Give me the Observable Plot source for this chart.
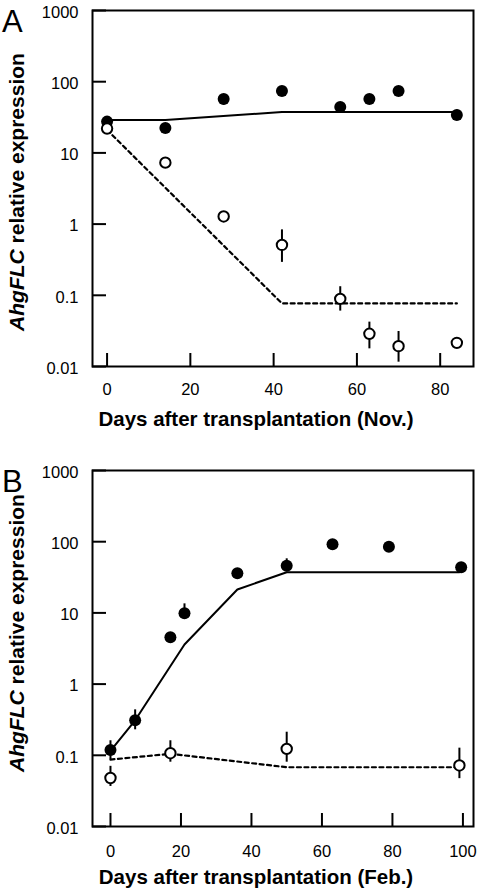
<!DOCTYPE html>
<html><head><meta charset="utf-8">
<script src="https://cdn.jsdelivr.net/npm/d3@7"></script>
<script src="https://cdn.jsdelivr.net/npm/@observablehq/plot@0.6"></script>
<style>
body{margin:0;background:#fff}
#chart{position:relative;width:477px;height:888px}
#chart svg{display:block}
</style>
</head><body><div id="chart"></div>
<script>
// ---------- Panel A (Nov.) ----------
const aFilledDays = [0, 14, 28, 42, 56, 63, 70, 84];
const aFilledVals = [27.5, 22.3, 57, 74, 44, 57, 74, 34];
const aFilledErrDays = [28, 84];
const aFilledErrLo = [47, 34];
const aFilledErrHi = [57, 40];
const aOpenDays = [0, 14, 28, 42, 56, 63, 70, 84];
const aOpenVals = [22, 7.3, 1.28, 0.51, 0.089, 0.0288, 0.0193, 0.0215];
const aOpenErrDays = [42, 56, 63, 70];
const aOpenErrLo = [0.29, 0.060, 0.0177, 0.0115];
const aOpenErrHi = [0.83, 0.132, 0.042, 0.031];
const aFitFilledDays = [0, 14, 42, 84];
const aFitFilledVals = [29, 29, 37.5, 37.5];
const aFitOpenDays = [0, 42, 84];
const aFitOpenVals = [21, 0.077, 0.077];
const aXTicks = [0, 20, 40, 60, 80];

// ---------- Panel B (Feb.) ----------
const bFilledDays = [0, 7, 17, 21, 36, 50, 63, 79, 99.5];
const bFilledVals = [0.119, 0.31, 4.56, 9.9, 36.1, 45.8, 92, 84.8, 43.8];
const bFilledErrDays = [0, 7, 21, 50, 99.5];
const bFilledErrLo = [0.087, 0.228, 9.9, 45.8, 43.8];
const bFilledErrHi = [0.16, 0.435, 13.4, 57.5, 49];
const bOpenDays = [0, 17, 50, 99];
const bOpenVals = [0.048, 0.107, 0.123, 0.072];
const bOpenErrDays = [0, 17, 50, 99];
const bOpenErrLo = [0.0365, 0.08, 0.08, 0.047];
const bOpenErrHi = [0.070, 0.16, 0.211, 0.126];
const bFitFilledDays = [0, 7, 21, 36, 50, 99];
const bFitFilledVals = [0.115, 0.31, 3.6, 21.3, 37.3, 37.3];
const bFitOpenDays = [0, 17, 50, 99];
const bFitOpenVals = [0.087, 0.105, 0.068, 0.068];
const bXTicks = [0, 20, 40, 60, 80, 100];

const yTicks = [0.01, 0.1, 1, 10, 100, 1000];
const yTickLabels = ["0.01", "0.1", "1", "10", "100", "1000"];

const FONT = "'Liberation Sans', Arial, Helvetica, sans-serif";

const zip = (xs, ys) => xs.map((x, i) => ({x, y: ys[i]}));
const zipErr = (xs, lo, hi) => xs.map((x, i) => ({x, lo: lo[i], hi: hi[i]}));

function panel(cfg) {
  const W = 477, ML = 92, MR = 4;
  const plotW = W - ML - MR;
  const plotH = cfg.height - cfg.marginTop - cfg.marginBottom;
  const svg = Plot.plot({
    width: W,
    height: cfg.height,
    marginLeft: ML,
    marginRight: MR,
    marginTop: cfg.marginTop,
    marginBottom: cfg.marginBottom,
    style: {fontFamily: FONT, fontSize: "16.5px", background: "white", color: "black", overflow: "visible"},
    x: {domain: cfg.xDomain},
    y: {type: "log", domain: [0.01, 1000]},
    marks: [
      Plot.axisY(yTicks, {anchor: "left", tickSize: 0, tickPadding: 14,
        tickFormat: d => yTickLabels[yTicks.indexOf(d)], label: null, dy: 2}),
      Plot.axisX(cfg.xTicks, {anchor: "bottom", tickSize: 0, tickPadding: cfg.xLabelGap, label: null}),
      // inward ticks
      Plot.tickY(yTicks, {y: d => d, stroke: "black", strokeWidth: 2, insetRight: plotW - 14}),
      Plot.tickX(cfg.xTicks, {x: d => d, stroke: "black", strokeWidth: 2, insetTop: plotH - 13}),
      Plot.line(zip(cfg.fitFilledDays, cfg.fitFilledVals), {x: "x", y: "y", stroke: "black", strokeWidth: 2}),
      Plot.line(zip(cfg.fitOpenDays, cfg.fitOpenVals), {x: "x", y: "y", stroke: "black", strokeWidth: 2.2, strokeDasharray: "4,3.5"}),
      Plot.ruleX(zipErr(cfg.filledErrDays, cfg.filledErrLo, cfg.filledErrHi), {x: "x", y1: "lo", y2: "hi", stroke: "black", strokeWidth: 2}),
      Plot.ruleX(zipErr(cfg.openErrDays, cfg.openErrLo, cfg.openErrHi), {x: "x", y1: "lo", y2: "hi", stroke: "black", strokeWidth: 2}),
      Plot.dot(zip(cfg.filledDays, cfg.filledVals), {x: "x", y: "y", r: 6, fill: "black", stroke: "none"}),
      Plot.dot(zip(cfg.openDays, cfg.openVals), {x: "x", y: "y", r: 5.2, fill: "white", stroke: "black", strokeWidth: 2}),
      Plot.frame({stroke: "black", strokeWidth: 2})
    ]
  });
  const s = d3.select(svg);
  s.append("text").attr("x", 2).attr("y", cfg.letterY).attr("text-anchor", "start")
    .attr("font-size", 31).attr("font-family", FONT).text(cfg.letter);
  const yl = s.append("text")
    .attr("transform", `translate(24,${cfg.yLabelCenter}) rotate(-90)`)
    .attr("text-anchor", "middle").attr("font-size", 21).attr("font-weight", "bold").attr("font-family", FONT);
  yl.append("tspan").attr("font-style", "italic").text("AhgFLC");
  yl.append("tspan").text(" relative expression");
  s.append("text").attr("x", 256).attr("y", cfg.xTitleY).attr("text-anchor", "middle")
    .attr("font-size", 20.5).attr("font-weight", "bold").attr("font-family", FONT).text(cfg.xTitle);
  return svg;
}

const chart = document.getElementById("chart");
chart.appendChild(panel({
  height: 440, marginTop: 10, marginBottom: 74, xDomain: [-3.5, 88], xTicks: aXTicks, xLabelGap: 17,
  filledDays: aFilledDays, filledVals: aFilledVals,
  filledErrDays: aFilledErrDays, filledErrLo: aFilledErrLo, filledErrHi: aFilledErrHi,
  openDays: aOpenDays, openVals: aOpenVals,
  openErrDays: aOpenErrDays, openErrLo: aOpenErrLo, openErrHi: aOpenErrHi,
  fitFilledDays: aFitFilledDays, fitFilledVals: aFitFilledVals,
  fitOpenDays: aFitOpenDays, fitOpenVals: aFitOpenVals,
  letter: "A", letterY: 32, yLabelCenter: 192, xTitleY: 426,
  xTitle: "Days after transplantation (Nov.)"
}));
chart.appendChild(panel({
  height: 448, marginTop: 30, marginBottom: 62, xDomain: [-5.1, 103], xTicks: bXTicks, xLabelGap: 19,
  filledDays: bFilledDays, filledVals: bFilledVals,
  filledErrDays: bFilledErrDays, filledErrLo: bFilledErrLo, filledErrHi: bFilledErrHi,
  openDays: bOpenDays, openVals: bOpenVals,
  openErrDays: bOpenErrDays, openErrLo: bOpenErrLo, openErrHi: bOpenErrHi,
  fitFilledDays: bFitFilledDays, fitFilledVals: bFitFilledVals,
  fitOpenDays: bFitOpenDays, fitOpenVals: bFitOpenVals,
  letter: "B", letterY: 52, yLabelCenter: 193, xTitleY: 444,
  xTitle: "Days after transplantation (Feb.)"
}));
</script></body></html>
